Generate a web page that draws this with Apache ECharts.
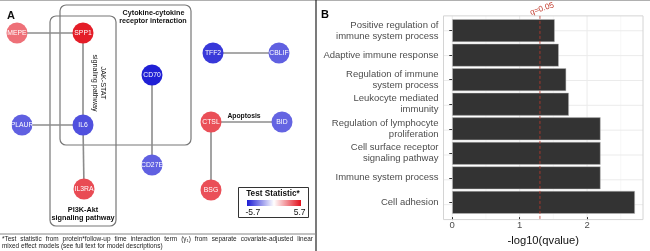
<!DOCTYPE html>
<html>
<head>
<meta charset="utf-8">
<script src="https://cdn.jsdelivr.net/npm/echarts@6/dist/echarts.min.js"></script>
<style>
html, body { margin: 0; padding: 0; background: #fff; }
#main { width: 650px; height: 251px; }
</style>
</head>
<body>
<div id="main"></div>
<script>
// panel A - protein network (layout units = panel pixels)
const nodeNames = ['MEPE', 'SPP1', 'CD70', 'TFF2', 'CBLIF', 'PLAUR', 'IL6', 'CTSL', 'BID', 'CD27E', 'IL3RA', 'BSG'];
const nodeStats = [3.4, 5.4, -5.6, -5.0, -4.0, -4.0, -4.4, 4.2, -3.9, -4.0, 4.3, 4.2];
const nodeX = [17, 83, 152, 213, 279, 22, 83, 211, 282, 152, 84, 211];
const nodeY = [33, 33, 75, 53, 53, 125, 125, 122, 122, 165, 189, 190];
const edgeList = [
	['MEPE', 'SPP1'], ['SPP1', 'IL6'], ['PLAUR', 'IL6'], ['IL6', 'IL3RA'],
	['CD70', 'CD27E'], ['TFF2', 'CBLIF'], ['CTSL', 'BID'], ['CTSL', 'BSG'],
];
const statRange = [-5.7, 5.7];
const statColors = ['#1c1cd4', '#ffffff', '#e2101c'];

// panel B - enrichment
const terms = [
	'Positive regulation of\nimmune system process',
	'Adaptive immune response',
	'Regulation of immune\nsystem process',
	'Leukocyte mediated\nimmunity',
	'Regulation of lymphocyte\nproliferation',
	'Cell surface receptor\nsignaling pathway',
	'Immune system process',
	'Cell adhesion',
];
const logQ = [1.52, 1.58, 1.69, 1.73, 2.2, 2.2, 2.2, 2.71];
const xTicks = [0, 1, 2];
const xMinor = [0.5, 1.5, 2.5];
const qCut = -Math.log10(0.05);

const footLines = [
	'*Test statistic from protein*follow-up time interaction term (\u03b3\u2081) from separate covariate-adjusted linear',
	'mixed effect models (see full text for model descriptions)',
];

const FONT = 'Liberation Sans';

function statColor(v) {
	let t = (v - statRange[0]) / (statRange[1] - statRange[0]);
	return echarts.color.lerp(Math.max(0, Math.min(1, t)), statColors);
}

const chart = echarts.init(document.getElementById('main'));

const option = {
	animation: false,
	backgroundColor: '#fff',
	textStyle: { fontFamily: FONT },
	grid: [
		{ left: 0, top: 0, width: 316, height: 233, show: false },
		{ left: 443.5, right: 7, top: 18.36, bottom: 30.36, show: false },
	],
	xAxis: [
		{ gridIndex: 0, type: 'value', min: 0, max: 316, show: false },
		{
			gridIndex: 1,
			type: 'value',
			min: -0.13,
			max: 2.83,
			axisLine: { show: false },
			splitLine: { show: false },
			axisTick: { show: true, length: 3, customValues: xTicks, lineStyle: { color: '#333' } },
			axisLabel: { customValues: xTicks, margin: 3, fontSize: 9.5, color: '#4d4d4d' },
			name: '-log10(qvalue)',
			nameLocation: 'middle',
			nameGap: 13,
			nameTextStyle: { fontSize: 11.2, color: '#111' },
		},
	],
	yAxis: [
		{ gridIndex: 0, type: 'value', min: 0, max: 233, inverse: true, show: false },
		{
			gridIndex: 1,
			type: 'category',
			inverse: true,
			data: terms,
			axisLine: { show: false },
			axisTick: { show: true, length: 3, alignWithLabel: true, lineStyle: { color: '#333' } },
			axisLabel: { fontSize: 9.5, lineHeight: 11, color: '#4d4d4d', margin: 5, align: 'right' },
			splitLine: { show: false },
		},
	],
	series: [
		{
			type: 'graph',
			coordinateSystem: 'cartesian2d',
			xAxisIndex: 0,
			yAxisIndex: 0,
			symbolSize: 21,
			z: 3,
			data: nodeNames.map((n, i) => ({
				name: n,
				value: [nodeX[i], nodeY[i]],
				itemStyle: { color: statColor(nodeStats[i]) },
			})),
			links: edgeList.map(([s, t]) => ({ source: s, target: t })),
			label: { show: true, position: 'inside', color: '#fff', fontSize: 6.8, fontFamily: FONT },
			lineStyle: { color: '#8c8c8c', width: 1.6, opacity: 1, curveness: 0 },
			emphasis: { disabled: true },
		},
		{
			type: 'bar',
			xAxisIndex: 1,
			yAxisIndex: 1,
			data: logQ,
			barCategoryGap: '7%',
			z: 2,
			itemStyle: { color: '#333333', borderColor: '#bdbdbd', borderWidth: 0.5 },
		},
	],
};

chart.setOption(option);

// decorations placed through the grid's own scales
const px = (x, i) => chart.convertToPixel({ gridIndex: 1 }, [x, i]);
const y0 = px(0, 0)[1];
const band = px(0, 1)[1] - y0;
const yLast = px(0, terms.length - 1)[1];
const frameTop = y0 - 0.6 * band;
const frameBot = yLast + 0.6 * band;
const left = px(-0.13, 0)[0];
const right = px(2.83, 0)[0];

const gfx = [];
const vline = (x, color, w, z, dash) => ({
	type: 'line', z: z, silent: true,
	shape: { x1: x, y1: frameTop, x2: x, y2: frameBot },
	style: { stroke: color, lineWidth: w, lineDash: dash || null },
});
xMinor.forEach((v) => gfx.push(vline(px(v, 0)[0], '#f4f4f4', 0.6, 0)));
xTicks.forEach((v) => gfx.push(vline(px(v, 0)[0], '#ebebeb', 1, 0)));
terms.forEach((t, i) => {
	let y = px(0, i)[1];
	gfx.push({ type: 'line', z: 0, silent: true, shape: { x1: left, y1: y, x2: right, y2: y }, style: { stroke: '#ebebeb', lineWidth: 1 } });
});
gfx.push({ type: 'rect', z: 1, silent: true, shape: { x: left, y: frameTop, width: right - left, height: frameBot - frameTop }, style: { fill: null, stroke: '#d4d4d4', lineWidth: 1 } });
let qx = px(qCut, 0)[0];
gfx.push(vline(qx, '#c0392b', 0.8, 10, [3, 2]));
gfx.push({ type: 'text', z: 10, x: qx + 2, y: frameTop - 7, rotation: 0.33, style: { text: 'q=0.05', fill: '#c0392b', font: '8px "' + FONT + '"', align: 'center', verticalAlign: 'middle' } });
gfx.push({ type: 'text', x: 325, y: 15, style: { text: 'B', fill: '#000', font: 'bold 11px "' + FONT + '"', align: 'center', verticalAlign: 'middle' } });

// panel A frame, pathway boxes and labels
const boxStyle = { fill: null, stroke: '#777', lineWidth: 1.2 };
gfx.push({ type: 'line', shape: { x1: 0, y1: 0.5, x2: 650, y2: 0.5 }, style: { stroke: '#b0b0b0', lineWidth: 1 } });
gfx.push({ type: 'line', shape: { x1: 316, y1: 0, x2: 316, y2: 251 }, style: { stroke: '#222', lineWidth: 1.2 } });
gfx.push({ type: 'line', shape: { x1: 0, y1: 234, x2: 316, y2: 234 }, style: { stroke: '#888', lineWidth: 1.2 } });
gfx.push({ type: 'rect', z: 1, shape: { x: 60, y: 5, width: 131, height: 140, r: 6 }, style: boxStyle });
gfx.push({ type: 'rect', z: 1, shape: { x: 50, y: 16, width: 66, height: 210, r: 6 }, style: boxStyle });

const label = (txt, x, y, size, bold, extra) => Object.assign({
	type: 'text', x: x, y: y, z: 5,
	style: { text: txt, fill: '#111', font: (bold ? 'bold ' : '') + size + 'px "' + FONT + '"', align: 'center', verticalAlign: 'middle' },
}, extra || {});
gfx.push(label('A', 11, 16, 11, true));
gfx.push(label('Cytokine-cytokine', 153.5, 13, 7.2, true));
gfx.push(label('receptor interaction', 153, 21, 7.2, true));
gfx.push(label('JAK-STAT', 103, 83, 7.2, false, { rotation: -Math.PI / 2 }));
gfx.push(label('signaling pathway', 95, 83, 7.2, false, { rotation: -Math.PI / 2 }));
gfx.push(label('PI3K-Akt', 83, 210, 7.3, true));
gfx.push(label('signaling pathway', 83, 218.3, 7.3, true));
gfx.push(label('Apoptosis', 244, 116, 6.8, true));

// colour legend
gfx.push({ type: 'rect', z: 4, shape: { x: 238.5, y: 187.5, width: 70, height: 30 }, style: { fill: '#fff', stroke: '#333', lineWidth: 1 } });
gfx.push(label('Test Statistic*', 273, 193.5, 8.2, true));
gfx.push({
	type: 'rect', z: 5, shape: { x: 247, y: 200, width: 54, height: 6 },
	style: {
		fill: {
			type: 'linear', x: 0, y: 0, x2: 1, y2: 0,
			colorStops: statColors.map((c, i) => ({ offset: i / (statColors.length - 1), color: c })),
		},
	},
});
const endLabel = (v, x, align) => ({
	type: 'text', x: x, y: 213, z: 5,
	style: { text: String(v), fill: '#111', font: '8.5px "' + FONT + '"', align: align, verticalAlign: 'middle' },
});
gfx.push(endLabel(statRange[0], 245.5, 'left'));
gfx.push(endLabel(statRange[1], 305.5, 'right'));

// footnote, first line justified across the panel
const footFont = '6.45px "' + FONT + '"';
const measure = document.createElement('canvas').getContext('2d');
measure.font = footFont;
const footY = [239.5, 246.5];
const footLeft = 2, footRight = 313;
footLines.forEach((line, li) => {
	let words = line.split(' ');
	let gap = measure.measureText(' ').width;
	if (li < footLines.length - 1) {
		let total = words.reduce((s, w) => s + measure.measureText(w).width, 0);
		gap = (footRight - footLeft - total) / (words.length - 1);
	}
	let x = footLeft;
	words.forEach((w) => {
		gfx.push({ type: 'text', x: x, y: footY[li], style: { text: w, fill: '#222', font: footFont, align: 'left', verticalAlign: 'middle' } });
		x += measure.measureText(w).width + gap;
	});
});

chart.setOption({
	xAxis: [{}, { offset: frameBot - px(0, terms.length - 1)[1] - 0.5 * band }],
	graphic: { elements: gfx },
});
</script>
</body>
</html>
